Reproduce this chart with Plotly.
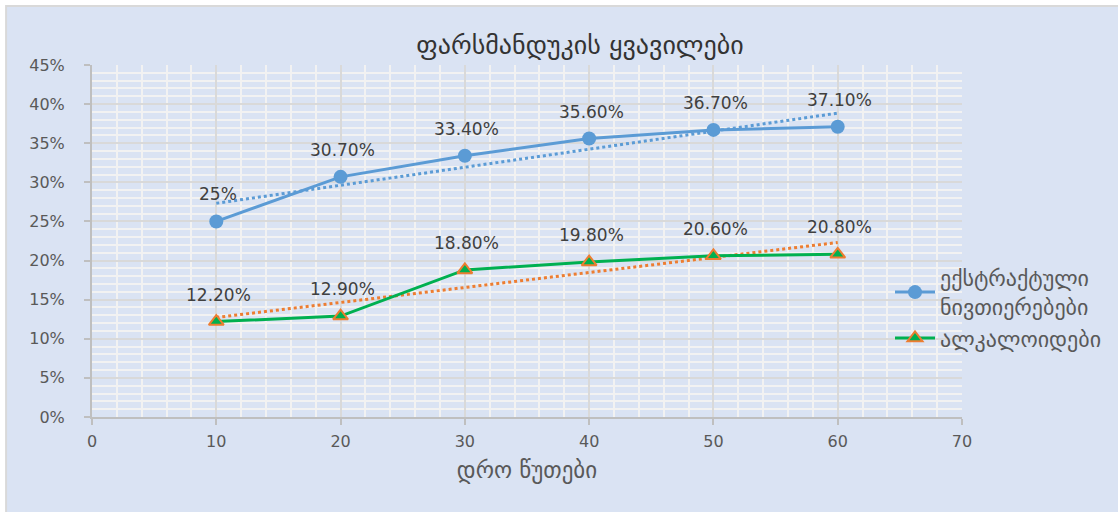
import numpy as np
import plotly.graph_objects as go

# ---- data ----
minutes = [10, 20, 30, 40, 50, 60]
extractives = [0.25, 0.307, 0.334, 0.356, 0.367, 0.371]
alkaloids = [0.122, 0.129, 0.188, 0.198, 0.206, 0.208]
extractive_labels = ["25%", "30.70%", "33.40%", "35.60%", "36.70%", "37.10%"]
alkaloid_labels = ["12.20%", "12.90%", "18.80%", "19.80%", "20.60%", "20.80%"]
series_names = ["ექსტრაქტული<br>ნივთიერებები", "ალკალოიდები"]
title_text = "ფარსმანდუკის ყვავილები"
x_title = "დრო წუთები"

BLUE = "#5b9bd5"
GREEN = "#00b050"
ORANGE = "#ed7d31"
BG = "#dae3f3"
GEO_FONT = "DejaVu Sans"
NUM_FONT = "DejaVu Sans"

# linear trendlines (as Excel computes them) from the data
def trend(xs, ys):
    k, b = np.polyfit(xs, ys, 1)
    xx = np.array([xs[0], xs[-1]], dtype=float)
    return xx, k * xx + b

fig = go.Figure()

tx, ty = trend(minutes, extractives)
fig.add_trace(go.Scatter(x=tx, y=ty, mode="lines", showlegend=False,
                         line=dict(color=BLUE, width=3, dash="dot"), hoverinfo="skip"))
tx2, ty2 = trend(minutes, alkaloids)
fig.add_trace(go.Scatter(x=tx2, y=ty2, mode="lines", showlegend=False,
                         line=dict(color=ORANGE, width=3, dash="dot"), hoverinfo="skip"))

fig.add_trace(go.Scatter(
    x=minutes, y=extractives, mode="lines+markers", name=series_names[0],
    line=dict(color=BLUE, width=3),
    marker=dict(symbol="circle", size=14, color=BLUE),
))
fig.add_trace(go.Scatter(
    x=minutes, y=alkaloids, mode="lines+markers", name=series_names[1],
    line=dict(color=GREEN, width=3),
    marker=dict(symbol="triangle-up", size=13, color=GREEN,
                line=dict(color=ORANGE, width=2)),
))

# data labels
for xs, ys, labels in [(minutes, extractives, extractive_labels),
                       (minutes, alkaloids, alkaloid_labels)]:
    for xv, yv, lab in zip(xs, ys, labels):
        fig.add_annotation(x=xv, y=yv, text=lab, showarrow=False,
                           yshift=27, xshift=2,
                           font=dict(family=NUM_FONT, size=17, color="#404040"))

# outer chart-area frame
fig.add_shape(type="rect", xref="paper", yref="paper",
              x0=(6 - 92) / 871, x1=1.3, y0=-0.4, y1=(417 - 6) / 352,
              fillcolor=BG, line=dict(color="#d9d9d9", width=2), layer="below")

axis_common = dict(
    showline=True, linecolor="#bfbfbf", linewidth=2,
    ticks="outside", ticklen=6, tickcolor="#bfbfbf", tickwidth=2,
    showgrid=True, gridcolor="#d9d9d9", gridwidth=2,
    zeroline=False,
    tickfont=dict(family=NUM_FONT, size=16, color="#595959"),
)

fig.update_xaxes(range=[0, 70], dtick=10, tick0=0,
                 minor=dict(dtick=2, showgrid=True, gridcolor="#f2f2f2", gridwidth=2, ticks=""),
                 ticklabelstandoff=3,
                 title=dict(text=x_title, standoff=12,
                            font=dict(family=GEO_FONT, size=23, color="#595959")),
                 **axis_common)
fig.update_yaxes(range=[0, 0.45], dtick=0.05, tick0=0, tickformat=".0%",
                 minor=dict(dtick=0.01, showgrid=True, gridcolor="#f2f2f2", gridwidth=2, ticks=""),
                 ticklabelstandoff=16,
                 **axis_common)

fig.update_layout(
    width=1118, height=512,
    margin=dict(l=92, r=155, t=65, b=95),
    paper_bgcolor="white", plot_bgcolor=BG,
    title=dict(text=title_text, x=580 / 1118, xanchor="center",
               y=1 - 45 / 512, yanchor="middle",
               font=dict(family=GEO_FONT, size=26, color="#333333")),
    legend=dict(x=(890 - 92) / 871, y=(417 - 257) / 352, xanchor="left", yanchor="top",
                bgcolor="rgba(0,0,0,0)",
                font=dict(family=GEO_FONT, size=22, color="#595959"),
                itemwidth=40, tracegroupgap=0),
    showlegend=True,
)

fig.write_html("out.html", config={"displayModeBar": False},
               post_script="document.body.style.margin='0';")
